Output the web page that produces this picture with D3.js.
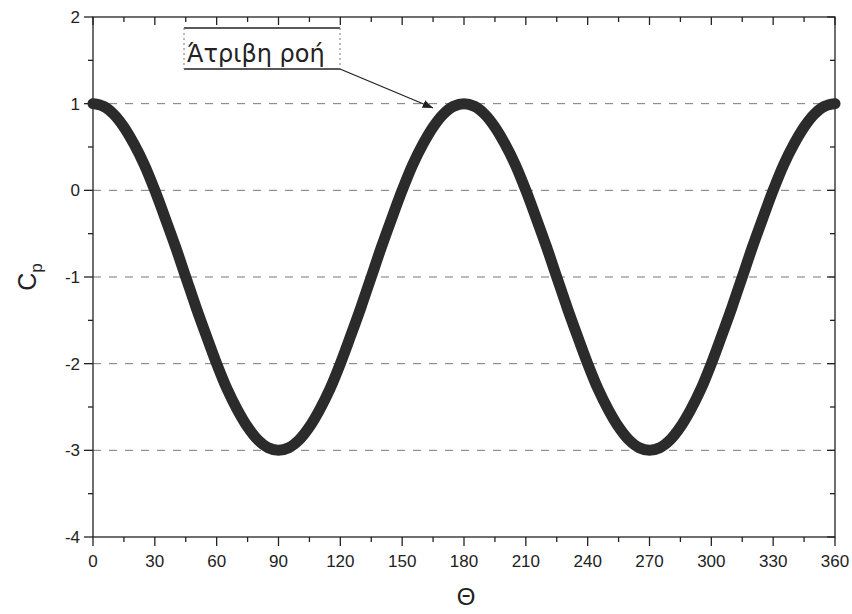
<!DOCTYPE html>
<html><head><meta charset="utf-8">
<script src="https://cdn.jsdelivr.net/npm/d3@7"></script>
<style>body{margin:0;background:#fff}svg{display:block}</style>
</head><body>
<svg id="c" width="852" height="614"></svg>
<script>
const thetaDeg = [0,5,10,15,20,25,30,35,40,45,50,55,60,65,70,75,80,85,90,
  95,100,105,110,115,120,125,130,135,140,145,150,155,160,165,170,175,180,
  185,190,195,200,205,210,215,220,225,230,235,240,245,250,255,260,265,270,
  275,280,285,290,295,300,305,310,315,320,325,330,335,340,345,350,355,360];
const cpValues = [1.00,0.97,0.88,0.73,0.53,0.29,0.00,-0.32,-0.65,-1.00,-1.35,-1.68,-2.00,-2.29,-2.53,-2.73,-2.88,-2.97,-3.00,
  -2.97,-2.88,-2.73,-2.53,-2.29,-2.00,-1.68,-1.35,-1.00,-0.65,-0.32,0.00,0.29,0.53,0.73,0.88,0.97,1.00,
  0.97,0.88,0.73,0.53,0.29,0.00,-0.32,-0.65,-1.00,-1.35,-1.68,-2.00,-2.29,-2.53,-2.73,-2.88,-2.97,-3.00,
  -2.97,-2.88,-2.73,-2.53,-2.29,-2.00,-1.68,-1.35,-1.00,-0.65,-0.32,0.00,0.29,0.53,0.73,0.88,0.97,1.00];
const xTicks = [0,30,60,90,120,150,180,210,240,270,300,330,360];
const yTicks = [-4,-3,-2,-1,0,1,2];
const gridY = [-3,-2,-1,0,1];
const annotationText = "Άτριβη ροή";
const annotationTarget = [165, 0.95];

const svg = d3.select("#c");
const m = {l:93, r:835, t:17, b:537};
const x = d3.scaleLinear().domain([0,360]).range([m.l, m.r]);
const y = d3.scaleLinear().domain([-4,2]).range([m.b, m.t]);
const ink = "#222";
const font = "Arial, 'Liberation Sans', sans-serif";

// gridlines
svg.append("g").selectAll("line").data(gridY).join("line")
  .attr("x1", m.l).attr("x2", m.r).attr("y1", d=>y(d)).attr("y2", d=>y(d))
  .attr("stroke", "#777").attr("stroke-width", 1).attr("stroke-dasharray", "8,8");

// axes
const xMinor = d3.range(0, 361, 15);
const yMinor = d3.range(-4, 2.01, 0.5);
const g = svg.append("g").attr("stroke", ink).attr("stroke-width", 1.3);
g.append("rect").attr("x", m.l).attr("y", m.t).attr("width", m.r-m.l).attr("height", m.b-m.t).attr("fill","none");
g.selectAll(".bt").data(xMinor).join("line")
  .attr("x1", d=>x(d)).attr("x2", d=>x(d)).attr("y1", m.b).attr("y2", d=> m.b + (d%30===0?9:5));
g.selectAll(".tt").data(xMinor).join("line")
  .attr("x1", d=>x(d)).attr("x2", d=>x(d)).attr("y1", m.t).attr("y2", d=> m.t + (d%30===0?8:5));
g.selectAll(".lt").data(yMinor).join("line")
  .attr("y1", d=>y(d)).attr("y2", d=>y(d)).attr("x1", m.l).attr("x2", d=> m.l - (Math.abs(d%1)<1e-9?9:5));
g.selectAll(".rt").data(yMinor).join("line")
  .attr("y1", d=>y(d)).attr("y2", d=>y(d)).attr("x1", m.r).attr("x2", d=> m.r - (Math.abs(d%1)<1e-9?8:5));

svg.append("g").selectAll("text").data(xTicks).join("text")
  .attr("x", d=>x(d)).attr("y", m.b+30).attr("text-anchor","middle")
  .attr("font-family", font).attr("font-size", 17).attr("fill", ink).text(d=>d);
svg.append("g").selectAll("text").data(yTicks).join("text")
  .attr("x", m.l-13).attr("y", d=>y(d)+6).attr("text-anchor","end")
  .attr("font-family", font).attr("font-size", 17).attr("fill", ink).text(d=>d);

// axis titles
svg.append("text").attr("x", 466).attr("y", 605).attr("text-anchor","middle")
  .attr("font-family", font).attr("font-size", 24).attr("fill", ink).text("Θ");
const yl = svg.append("text").attr("transform", "translate(36,277) rotate(-90)")
  .attr("text-anchor","middle").attr("font-family", font).attr("font-size", 25).attr("fill", ink);
yl.append("tspan").text("C");
yl.append("tspan").attr("font-size", 17).attr("dy", 6).text("p");

// curve
const line = d3.line().x((d,i)=>x(thetaDeg[i])).y(d=>y(d)).curve(d3.curveCatmullRom);
svg.append("path").datum(cpValues).attr("d", line)
  .attr("fill","none").attr("stroke","#2b2b2b").attr("stroke-width", 11).attr("stroke-linecap","round");

// annotation
const ax0 = 184, ax1 = 340, ay0 = 28, ay1 = 69;
const ag = svg.append("g");
ag.append("line").attr("x1", ax0).attr("x2", ax1).attr("y1", ay0).attr("y2", ay0).attr("stroke", ink).attr("stroke-width", 1.5);
ag.append("line").attr("x1", ax0).attr("x2", ax1).attr("y1", ay1).attr("y2", ay1).attr("stroke", ink).attr("stroke-width", 1.5);
ag.append("line").attr("x1", ax0).attr("x2", ax0).attr("y1", ay0).attr("y2", ay1).attr("stroke", "#777").attr("stroke-width", 1).attr("stroke-dasharray","2,3");
ag.append("line").attr("x1", ax1).attr("x2", ax1).attr("y1", ay0).attr("y2", ay1).attr("stroke", "#777").attr("stroke-width", 1).attr("stroke-dasharray","2,3");
ag.append("text").attr("x", 187).attr("y", 62).attr("font-family", "'DejaVu Sans', sans-serif")
  .attr("font-size", 24).attr("fill", ink).text(annotationText);
svg.append("defs").append("marker").attr("id","ah").attr("viewBox","0 0 10 10").attr("refX",10).attr("refY",5)
  .attr("markerWidth",8).attr("markerHeight",8).attr("orient","auto")
  .append("path").attr("d","M0,1 L10,5 L0,9 Z").attr("fill", ink);
const tx = x(annotationTarget[0]), ty = y(annotationTarget[1]);
ag.append("line").attr("x1", ax1).attr("y1", ay1).attr("x2", tx).attr("y2", ty)
  .attr("stroke", ink).attr("stroke-width", 1.3).attr("marker-end","url(#ah)");
</script>
</body></html>
